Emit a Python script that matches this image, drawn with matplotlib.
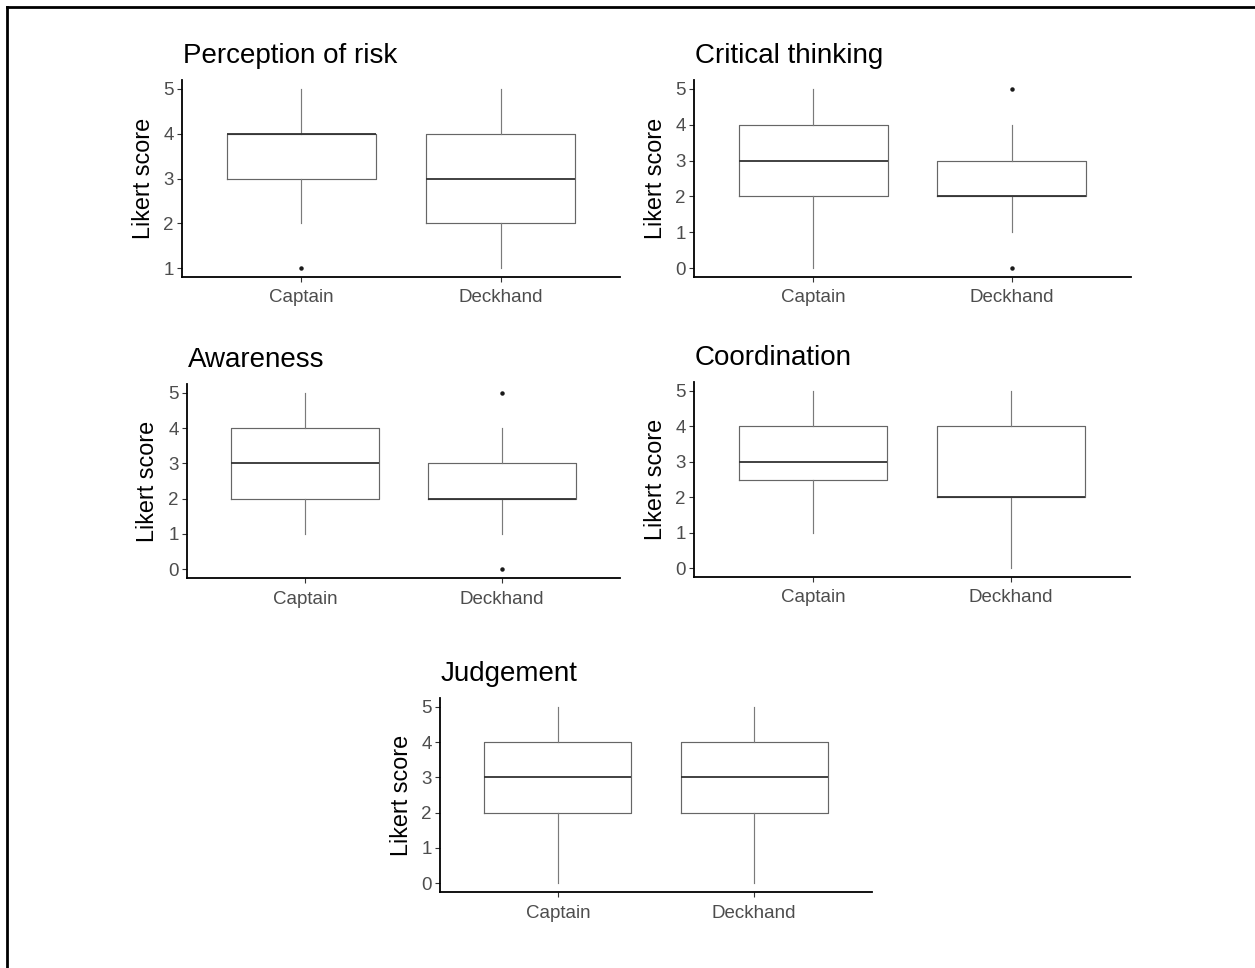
import matplotlib
matplotlib.use("Agg")
import matplotlib.pyplot as plt
from matplotlib.lines import Line2D

plt.rcParams["font.family"] = ["Liberation Sans", "DejaVu Sans"]

# ------------------------------------------------
# data
# ------------------------------------------------
panels = ["Perception of risk", "Critical thinking", "Awareness",
          "Coordination", "Judgement"]
groups = ["Captain", "Deckhand"]

q1 = [[3, 2], [2, 2], [2, 2], [2.5, 2], [2, 2]]
medians = [[4, 3], [3, 2], [3, 2], [3, 2], [3, 3]]
q3 = [[4, 4], [4, 3], [4, 3], [4, 4], [4, 4]]
whisker_lo = [[2, 1], [0, 1], [1, 1], [1, 0], [0, 0]]
whisker_hi = [[5, 5], [5, 4], [5, 4], [5, 5], [5, 5]]
outliers = [[[1], []], [[], [0, 5]], [[], [0, 5]], [[], []], [[], []]]

y_min = [1, 0, 0, 0, 0]
y_max = [5, 5, 5, 5, 5]

# ------------------------------------------------
# layout in pixels: (left, right, top, bottom) of each panel
# ------------------------------------------------
W, H = 1255, 968
boxes_px = [(182, 620, 80, 277),
            (694, 1131, 80, 277),
            (187, 620, 384, 578),
            (694, 1130, 382, 577),
            (440, 872, 698, 892)]

fig = plt.figure(figsize=(W / 100, H / 100), dpi=100)

for i, name in enumerate(panels):
    l, r, t, b = boxes_px[i]
    ax = fig.add_axes([l / W, 1 - b / H, (r - l) / W, (b - t) / H])

    stats = []
    for j, g in enumerate(groups):
        stats.append(dict(label=g, med=medians[i][j], q1=q1[i][j], q3=q3[i][j],
                          whislo=whisker_lo[i][j], whishi=whisker_hi[i][j],
                          fliers=outliers[i][j]))

    ax.bxp(stats, positions=[1, 2], widths=0.75, showcaps=False,
           boxprops=dict(color="#666666", linewidth=0.85),
           whiskerprops=dict(color="#7a7a7a", linewidth=0.85),
           medianprops=dict(color="#333333", linewidth=1.3),
           flierprops=dict(marker="o", markersize=2.2, markerfacecolor="#1a1a1a",
                           markeredgecolor="#1a1a1a"))

    span = y_max[i] - y_min[i]
    ax.set_ylim(y_min[i] - 0.05 * span, y_max[i] + 0.05 * span)
    ax.set_yticks(range(y_min[i], y_max[i] + 1))
    ax.set_xlim(0.4, 2.6)
    ax.set_xticks([1, 2])
    ax.set_xticklabels(groups)

    for side in ["top", "right"]:
        ax.spines[side].set_visible(False)
    for side in ["left", "bottom"]:
        ax.spines[side].set_color("black")
        ax.spines[side].set_linewidth(1.3)

    ax.tick_params(length=3.5, width=0.8, color="#333333",
                   labelsize=13.5, labelcolor="#4d4d4d")
    ax.tick_params(axis="y", pad=2.5)
    ax.tick_params(axis="x", pad=5.5)

    ax.annotate(name, xy=(0, 1), xycoords="axes fraction", xytext=(1, 17),
                textcoords="offset pixels", ha="left", va="baseline",
                fontsize=20, color="black")
    ax.annotate("Likert score", xy=(0, 0.5), xycoords="axes fraction",
                xytext=(-39, 0), textcoords="offset pixels", ha="center",
                va="center", rotation=90, fontsize=16.8, color="black")

# frame lines on the top and left edge of the image
fig.add_artist(Line2D([7 / W, 1], [1 - 7 / H, 1 - 7 / H], color="black", linewidth=2.0))
fig.add_artist(Line2D([7 / W, 7 / W], [0, 1 - 7 / H], color="black", linewidth=2.0))

fig.savefig("out.png", dpi=100, facecolor="white")
